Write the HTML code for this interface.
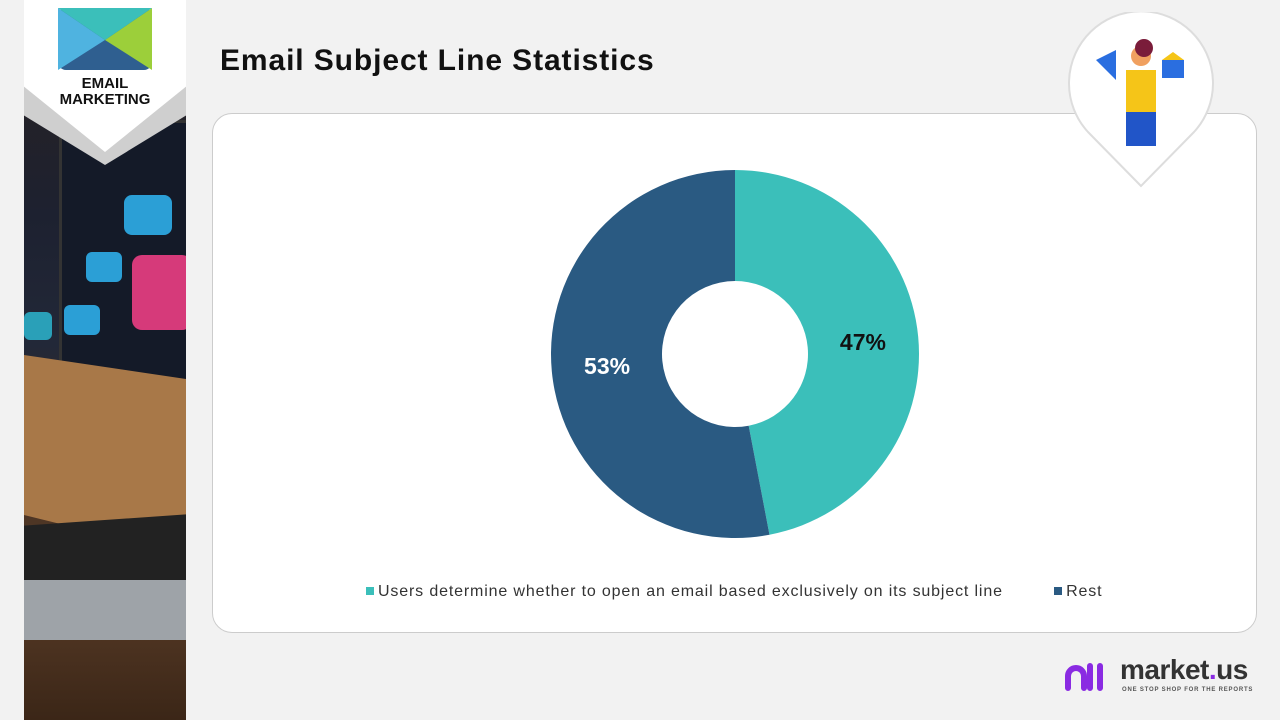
<!DOCTYPE html>
<html><head><meta charset="utf-8"><style>
body{margin:0;width:1280px;height:720px;background:#f2f2f2;font-family:"Liberation Sans",sans-serif;position:relative;overflow:hidden}
.abs{position:absolute}
</style></head><body>
<div class="abs" style="left:24px;top:0;width:162px;height:720px;background:linear-gradient(180deg,#2a2220 0%,#1d2130 30%,#222838 48%,#3a2a20 60%,#5a3d28 80%,#3b2617 100%);overflow:hidden">
  <div class="abs" style="left:35px;top:120px;width:140px;height:260px;background:#141a28;border-radius:10px;border:3px solid #333"></div>
  <div class="abs" style="left:100px;top:195px;width:48px;height:40px;background:#2b9fd6;border-radius:8px"></div>
  <div class="abs" style="left:108px;top:255px;width:60px;height:75px;background:#d63a7a;border-radius:10px"></div>
  <div class="abs" style="left:62px;top:252px;width:36px;height:30px;background:#2b9fd6;border-radius:6px"></div>
  <div class="abs" style="left:40px;top:305px;width:36px;height:30px;background:#2b9fd6;border-radius:6px"></div>
  <div class="abs" style="left:0;top:312px;width:28px;height:28px;background:#2aa0b8;border-radius:6px"></div>
  <div class="abs" style="left:0;top:355px;width:162px;height:200px;background:#a87848;clip-path:polygon(0 0,100% 12%,100% 100%,0 80%)"></div>
  <div class="abs" style="left:0;top:520px;width:162px;height:70px;background:#222;transform:skewY(-4deg)"></div>
  <div class="abs" style="left:0;top:580px;width:162px;height:60px;background:#9ea3a8"></div>
</div>
<div class="abs" style="left:24px;top:0;width:162px;height:165px;background:#cfcfcf;clip-path:polygon(0 0,100% 0,100% 70%,50% 100%,0 70%)"></div>
<div class="abs" style="left:24px;top:0;width:162px;height:152px;background:#fff;clip-path:polygon(0 0,100% 0,100% 57%,50% 100%,0 57%)">
  <svg class="abs" style="left:34px;top:8px" width="94" height="62" viewBox="0 0 94 62">
    <rect width="94" height="62" rx="8" fill="#2f5f90"/>
    <polygon points="0,0 47,32 0,62" fill="#4fb3e0"/>
    <polygon points="94,0 47,32 94,62" fill="#9ccf3a"/>
    <polygon points="0,0 94,0 47,32" fill="#3bbfba"/>
  </svg>
  <div class="abs" style="left:0;width:162px;top:76px;text-align:center;font-weight:bold;font-size:15px;line-height:16px;color:#111">EMAIL<br>MARKETING</div>
</div>
<div class="abs" style="left:220px;top:44px;font-size:30px;font-weight:bold;color:#111;letter-spacing:0.9px;white-space:nowrap">Email Subject Line Statistics</div>
<div class="abs" style="left:212px;top:113px;width:1043px;height:518px;background:#fff;border:1px solid #ccc;border-radius:20px"></div>
<div class="abs" style="left:1068px;top:12px;width:146px;height:176px">
  <svg width="146" height="176"><path d="M73 174 L20 120 A72 72 0 1 1 126 120 Z" fill="#fff" stroke="#ddd" stroke-width="2"/>
  <rect x="58" y="58" width="30" height="45" fill="#f5c518"/><rect x="58" y="100" width="30" height="34" fill="#2155c8"/><circle cx="73" cy="44" r="10" fill="#f0a060"/><circle cx="76" cy="36" r="9" fill="#7a1c3a"/><polygon points="28,48 48,38 48,68" fill="#2a6ee0"/><rect x="94" y="48" width="22" height="18" fill="#2a6ee0"/><polygon points="94,48 116,48 105,40" fill="#f5c518"/></svg>
</div>
<svg class="abs" style="left:0;top:0" width="1280" height="720" id="chart"></svg>
<div class="abs" style="left:366px;top:583px;font-size:16px;color:#333;white-space:nowrap;letter-spacing:0.85px">
  <span><span style="display:inline-block;width:8px;height:8px;background:#3bbfba;margin-right:4px;vertical-align:1px"></span>Users determine whether to open an email based exclusively on its subject line</span>
  <span style="margin-left:46px"><span style="display:inline-block;width:8px;height:8px;background:#2a5a82;margin-right:4px;vertical-align:1px"></span>Rest</span>
</div>
<div class="abs" style="left:1064px;top:658px;width:200px;height:40px">
  <svg class="abs" style="left:0;top:2px" width="48" height="34"><path d="M4 28 V16 A8 8 0 0 1 20 16 V28 M26 28 V6 M36 28 V6" stroke="#8a2be2" stroke-width="6" fill="none" stroke-linecap="round"/></svg>
  <div class="abs" style="left:56px;top:-4px;font-size:28px;font-weight:bold;color:#333;letter-spacing:-0.5px;white-space:nowrap">market<span style="color:#8a2be2">.</span>us</div>
  <div class="abs" style="left:58px;top:29px;font-size:6px;font-weight:bold;color:#555;letter-spacing:0.8px;white-space:nowrap">ONE STOP SHOP FOR THE REPORTS</div>
</div>
<script>
const categories=["Users determine whether to open an email based exclusively on its subject line","Rest"];
const values=[47,53];
const colors=["#3bbfba","#2a5a82"];
const labelColors=["#111","#fff"];
const cx=735,cy=354,R=184,r=73;
const svg=document.getElementById('chart');
const NS='http://www.w3.org/2000/svg';
const total=values.reduce((a,b)=>a+b,0);
function pt(a,rad){return [cx+rad*Math.sin(a),cy-rad*Math.cos(a)];}
let start=0;
values.forEach((v,i)=>{
  const end=start+v/total*2*Math.PI;
  const large=(end-start)>Math.PI?1:0;
  const [x1,y1]=pt(start,R),[x2,y2]=pt(end,R),[x3,y3]=pt(end,r),[x4,y4]=pt(start,r);
  const p=document.createElementNS(NS,'path');
  p.setAttribute('d',`M${x1} ${y1} A${R} ${R} 0 ${large} 1 ${x2} ${y2} L${x3} ${y3} A${r} ${r} 0 ${large} 0 ${x4} ${y4} Z`);
  p.setAttribute('fill',colors[i]);
  
  
  svg.appendChild(p);
  const mid=(start+end)/2;
  const [lx,ly]=pt(mid,(R+r)/2);
  const t=document.createElementNS(NS,'text');
  t.setAttribute('x',lx);t.setAttribute('y',ly+8);
  t.setAttribute('text-anchor','middle');
  t.setAttribute('font-size','23');t.setAttribute('font-weight','bold');
  t.setAttribute('font-family','Liberation Sans, sans-serif');
  t.setAttribute('fill',labelColors[i]);
  t.textContent=v+'%';
  
  
  svg.appendChild(t);
  start=end;
});
</script>
</body></html>
